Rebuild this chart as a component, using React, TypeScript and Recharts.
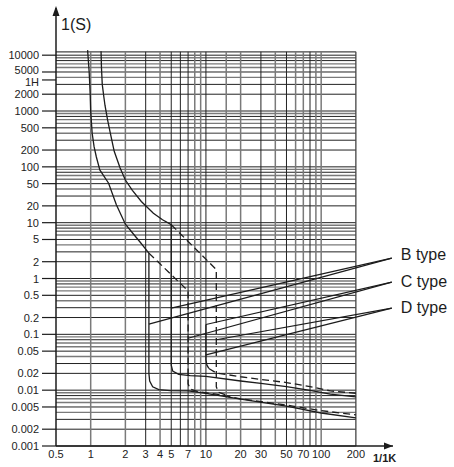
import { ComposedChart, Line, XAxis, YAxis, ReferenceLine, ReferenceDot } from 'recharts';

type Pt = { x: number; y: number };

const xTicks = [0.5, 1, 2, 3, 4, 5, 7, 10, 20, 30, 50, 70, 100, 200];
const yTicks = [
  0.001, 0.002, 0.005, 0.01, 0.02, 0.05, 0.1, 0.2, 0.5, 1, 2, 5, 10, 20, 50, 100, 200, 500, 1000, 2000,
  3600, 5000, 10000,
];

// grid of the log paper
const gridX = [1, 2, 3, 4, 5, 6, 7, 8, 9, 10, 15, 20, 30, 40, 50, 60, 70, 80, 90, 100];
const gridXDark = [3, 5, 6, 7, 10, 30, 50, 80];
const decades = [0.001, 0.01, 0.1, 1, 10, 100, 1000];
const mantissas = [1, 2, 3, 4, 5, 6, 7, 8, 9];
const darkMantissas = [1, 2, 3, 5, 8];
const GRID_TOP = 11500;

// left thermal curve + magnetic drop at ~3.2 In
const bLower: Pt[] = [
  { x: 0.94, y: 12300 }, { x: 0.97, y: 5000 }, { x: 0.99, y: 2000 }, { x: 1.0, y: 1000 },
  { x: 1.03, y: 400 }, { x: 1.07, y: 230 }, { x: 1.12, y: 150 }, { x: 1.2, y: 88 },
  { x: 1.43, y: 51 }, { x: 1.67, y: 21 }, { x: 2.0, y: 9.4 }, { x: 2.3, y: 6.6 },
  { x: 2.68, y: 4.5 }, { x: 3.2, y: 2.85 }, { x: 3.2, y: 0.02 }, { x: 3.25, y: 0.0145 },
  { x: 3.45, y: 0.0115 }, { x: 3.9, y: 0.0102 }, { x: 4.9, y: 0.0098 }, { x: 7, y: 0.0097 },
  { x: 10, y: 0.0088 }, { x: 20, y: 0.0069 }, { x: 50, y: 0.0052 }, { x: 100, y: 0.0039 },
  { x: 200, y: 0.0032 },
];

// right thermal curve + magnetic drop at 5 In
const bUpper: Pt[] = [
  { x: 1.23, y: 11800 }, { x: 1.24, y: 6000 }, { x: 1.26, y: 3000 }, { x: 1.3, y: 1800 },
  { x: 1.33, y: 1270 }, { x: 1.4, y: 700 }, { x: 1.48, y: 400 }, { x: 1.6, y: 190 },
  { x: 1.8, y: 95 }, { x: 2.0, y: 58 }, { x: 2.3, y: 38 }, { x: 2.75, y: 24 },
  { x: 3.5, y: 14.7 }, { x: 4.2, y: 11.3 }, { x: 5, y: 9.2 }, { x: 5, y: 0.028 },
  { x: 5.15, y: 0.022 }, { x: 5.8, y: 0.0192 }, { x: 7.3, y: 0.0182 }, { x: 10, y: 0.0177 },
  { x: 20, y: 0.0146 }, { x: 30, y: 0.0132 }, { x: 50, y: 0.0116 }, { x: 80, y: 0.0099 },
  { x: 120, y: 0.0085 }, { x: 200, y: 0.0076 },
];

const cSolid: Pt[] = [
  { x: 10, y: 0.15 }, { x: 10, y: 0.035 }, { x: 10.2, y: 0.028 }, { x: 10.6, y: 0.0245 },
];

const cDashed: Pt[] = [
  { x: 10.6, y: 0.0245 }, { x: 12.3, y: 0.0203 }, { x: 20, y: 0.0174 }, { x: 30, y: 0.0156 },
  { x: 50, y: 0.0137 }, { x: 80, y: 0.0116 }, { x: 120, y: 0.0097 }, { x: 200, y: 0.0088 },
];

const dashLow: Pt[] = [
  { x: 3.2, y: 2.85 }, { x: 7, y: 0.6 }, { x: 7, y: 0.013 }, { x: 7.3, y: 0.0105 },
  { x: 8.5, y: 0.0094 }, { x: 12.3, y: 0.0085 }, { x: 20, y: 0.007 }, { x: 50, y: 0.0054 },
  { x: 100, y: 0.0043 }, { x: 200, y: 0.0036 },
];

const dashHigh: Pt[] = [
  { x: 5, y: 9.2 }, { x: 12.3, y: 1.45 }, { x: 12.3, y: 0.0115 }, { x: 12.8, y: 0.0092 },
  { x: 16, y: 0.0078 },
];

// pointer lines to the type labels
const labelNames = ['B type', 'C type', 'D type'];
const labelY = [2.73, 0.9, 0.308];
const pointerEnds = [2.32, 0.862, 0.295];
const POINTER_X = 410;
const pointerStarts: Pt[][] = [
  [{ x: 3.2, y: 0.152 }, { x: 5, y: 0.295 }],
  [{ x: 10, y: 0.15 }, { x: 7, y: 0.085 }],
  [{ x: 12.3, y: 0.08 }, { x: 10, y: 0.043 }],
];

const INK = '#1c1c1c';
const FONT = '"Liberation Sans", Arial, sans-serif';

const gridY = [...decades.flatMap((d) => mantissas.map((m) => ({ v: m * d, dark: darkMantissas.includes(m) }))), { v: 10000, dark: true }];

const YTick = (props: any) => {
  const v = props.payload.value;
  // 5000 and 1H sit close together, nudge them apart like the print does
  const shift = v === 3600 ? 2.5 : v === 5000 ? -2 : 0;
  return (
    <text x={props.x} y={props.y + shift} textAnchor="end" dominantBaseline="central" fontSize={11} fill="#222" fontFamily={FONT}>
      {v === 3600 ? '1H' : String(v)}
    </text>
  );
};

const UpArrow = (props: any) => (
  <g>
    <polygon
      points={`${props.cx},${props.cy - 2} ${props.cx - 3.5},${props.cy + 8} ${props.cx + 3.5},${props.cy + 8}`}
      fill={INK}
    />
    <text x={props.cx + 5} y={props.cy + 22} fontSize={16} fill={INK} fontFamily={FONT}>
      1(S)
    </text>
  </g>
);

const RightArrow = (props: any) => (
  <g>
    <polygon
      points={`${props.cx},${props.cy} ${props.cx - 9},${props.cy - 3.5} ${props.cx - 9},${props.cy + 3.5}`}
      fill={INK}
    />
    <text x={props.cx - 20} y={props.cy + 16} fontSize={11} fontWeight="bold" fill={INK} fontFamily={FONT}>
      1/1K
    </text>
  </g>
);

const typeLabel = (name: string) => (props: any) => (
  <text x={props.cx + 9} y={props.cy} dominantBaseline="central" fontSize={16} fill={INK} fontFamily={FONT}>
    {name}
  </text>
);

export default function App() {
  return (
    <div style={{ position: 'fixed', left: 0, top: 0, width: 454, height: 467, background: '#fff' }}>
      <ComposedChart width={454} height={467} margin={{ top: 8, right: 61, bottom: 0, left: 0 }}>
        <XAxis
          dataKey="x"
          type="number"
          scale="log"
          domain={[0.5, 420]}
          allowDataOverflow
          ticks={xTicks}
          interval={0}
          tickLine={false}
          tickSize={0}
          tickMargin={4}
          height={21}
          axisLine={{ stroke: INK, strokeWidth: 1.5 }}
          tick={{ fontSize: 11, fill: '#222', fontFamily: FONT }}
        />
        <YAxis
          dataKey="y"
          type="number"
          scale="log"
          domain={[0.001, 70000]}
          allowDataOverflow
          ticks={yTicks}
          interval={0}
          width={56}
          tickSize={14}
          tickMargin={3}
          tickLine={{ stroke: INK, strokeWidth: 1.2 }}
          axisLine={{ stroke: INK, strokeWidth: 1.5 }}
          tick={<YTick />}
        />

        {gridY.map((g) => (
          <ReferenceLine
            key={`h${g.v}`}
            segment={[{ x: 0.5, y: g.v }, { x: 200, y: g.v }]}
            stroke={g.dark ? '#222' : '#7a7a7a'}
            strokeWidth={g.dark ? 1 : 1.4}
          />
        ))}
        <ReferenceLine segment={[{ x: 0.5, y: GRID_TOP }, { x: 200, y: GRID_TOP }]} stroke="#444" strokeWidth={1.3} />
        {gridX.map((v) => (
          <ReferenceLine
            key={`v${v}`}
            segment={[{ x: v, y: 0.001 }, { x: v, y: GRID_TOP }]}
            stroke={gridXDark.includes(v) ? '#222' : '#7a7a7a'}
            strokeWidth={gridXDark.includes(v) ? 1 : 1.5}
          />
        ))}
        <ReferenceLine segment={[{ x: 200, y: 0.001 }, { x: 200, y: GRID_TOP }]} stroke="#444" strokeWidth={1.3} />

        <Line data={bLower} dataKey="y" type="linear" stroke={INK} strokeWidth={1.3} dot={false} isAnimationActive={false} />
        <Line data={bUpper} dataKey="y" type="linear" stroke={INK} strokeWidth={1.3} dot={false} isAnimationActive={false} />
        <Line data={cSolid} dataKey="y" type="linear" stroke={INK} strokeWidth={1.3} dot={false} isAnimationActive={false} />
        <Line data={cDashed} dataKey="y" type="linear" stroke={INK} strokeWidth={1.3} strokeDasharray="7 4" dot={false} isAnimationActive={false} />
        <Line data={dashLow} dataKey="y" type="linear" stroke={INK} strokeWidth={1.3} strokeDasharray="7 4" dot={false} isAnimationActive={false} />
        <Line data={dashHigh} dataKey="y" type="linear" stroke={INK} strokeWidth={1.3} strokeDasharray="7 4" dot={false} isAnimationActive={false} />

        {pointerStarts.map((starts, i) =>
          starts.map((s, j) => (
            <Line
              key={`p${i}${j}`}
              data={[s, { x: POINTER_X, y: pointerEnds[i] }]}
              dataKey="y"
              type="linear"
              stroke={INK}
              strokeWidth={1.2}
              dot={false}
              isAnimationActive={false}
            />
          ))
        )}

        {labelNames.map((name, i) => (
          <ReferenceDot key={name} x={POINTER_X} y={labelY[i]} ifOverflow="visible" shape={typeLabel(name)} />
        ))}
        <ReferenceDot x={0.5} y={70000} ifOverflow="visible" shape={UpArrow} />
        <ReferenceDot x={420} y={0.001} ifOverflow="visible" shape={RightArrow} />
      </ComposedChart>
    </div>
  );
}
